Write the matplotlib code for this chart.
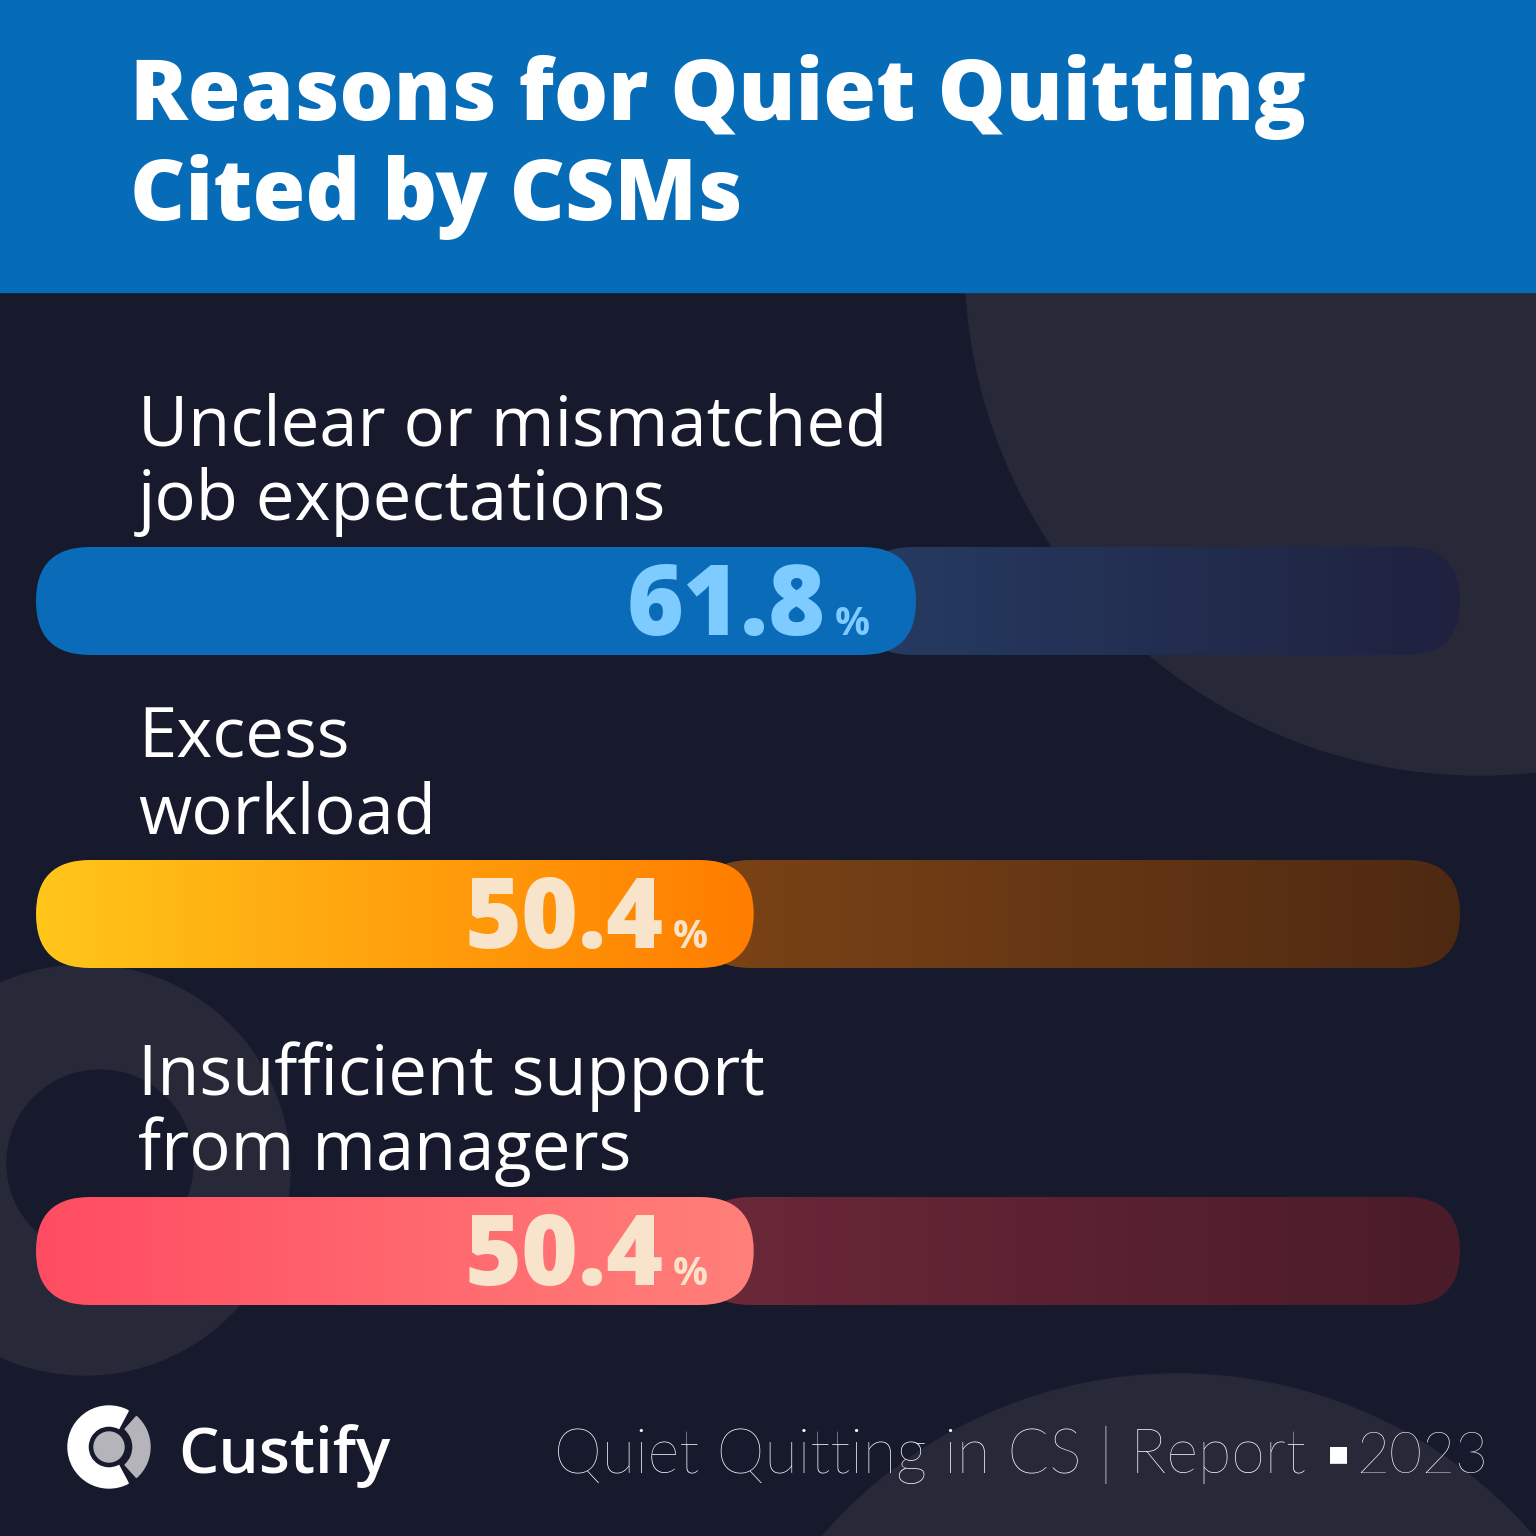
import numpy as np
import matplotlib.pyplot as plt
from matplotlib.patches import FancyBboxPatch, Circle, Rectangle, Wedge
from matplotlib.colors import LinearSegmentedColormap

# data
reasons = ["Unclear or mismatched\njob expectations", "Excess\nworkload", "Insufficient support\nfrom managers"]
shares = [61.8, 50.4, 50.4]

# styles
fill_colors = [("#0A6BB9", "#0A6BB9"), ("#FFC61A", "#FF7D00"), ("#FF4C62", "#FF807A")]
track_colors = [("#263C63", "#1F213F"), ("#7C4416", "#4E2912"), ("#6C2839", "#4A1B28")]
value_colors = ["#7DCBFF", "#F8E3CB", "#F8E3CB"]
row_centers = [601, 914, 1251]   # px from top
BG = "#171A2D"
DECO = "#272938"
HEADER = "#076CB8"

W = 1536
fig = plt.figure(figsize=(15.36, 15.36), dpi=100)
fig.patch.set_facecolor(BG)

bg = fig.add_axes([0, 0, 1, 1])
bg.set_xlim(0, W)
bg.set_ylim(W, 0)
bg.axis("off")
bg.set_facecolor(BG)

# decorative shapes
bg.add_patch(Circle((1480, 260), 515, color=DECO, zorder=1))
bg.add_patch(Circle((85, 1170), 205, color=DECO, zorder=1))
bg.add_patch(Circle((100, 1163), 93, color=BG, zorder=1))
bg.add_patch(Circle((1178, 1845), 471, color=DECO, zorder=1))
bg.add_patch(Rectangle((0, 0), W, 292, color=HEADER, zorder=2))

# title
bg.text(130, 120, "Reasons for Quiet Quitting", color="white", fontsize=61.5,
        family="Open Sans", weight="heavy", va="baseline", zorder=3)
bg.text(130, 220, "Cited by CSMs", color="white", fontsize=61.5,
        family="Open Sans", weight="heavy", va="baseline", zorder=3)


def rounded_bar(ax, x0, x1, c_left, c_right):
    # axes is 1424 px wide for 0..100 and 108 px tall for 0..1
    aspect = (1 / 108) / (100 / 1424)
    r = 54 * 100 / 1424
    patch = FancyBboxPatch((x0, 0), x1 - x0, 1,
                           boxstyle=f"round,pad=0,rounding_size={r}",
                           mutation_aspect=aspect, facecolor="none",
                           edgecolor="none")
    ax.add_patch(patch)
    cmap = LinearSegmentedColormap.from_list("g", [c_left, c_right])
    grad = np.linspace(0, 1, 256).reshape(1, -1)
    im = ax.imshow(grad, cmap=cmap, extent=(x0, x1, 0, 1), aspect="auto",
                   interpolation="bicubic")
    im.set_clip_path(patch)
    return patch


for i, (label, val) in enumerate(zip(reasons, shares)):
    cy = row_centers[i]
    ax = fig.add_axes([36 / W, (W - cy - 54) / W, 1424 / W, 108 / W])
    ax.set_xlim(0, 100)
    ax.set_ylim(0, 1)
    ax.axis("off")
    ax.patch.set_alpha(0)

    # track then fill
    rounded_bar(ax, val - 4, 100, *track_colors[i])
    rounded_bar(ax, 0, val, *fill_colors[i])

    ax.annotate(f"{val}", xy=(val, 0.5), xytext=(-90, -34), textcoords="offset pixels",
                ha="right", va="baseline", color=value_colors[i], fontsize=70,
                family="Open Sans", weight="heavy")
    ax.annotate("%", xy=(val, 0.5), xytext=(-46, -34), textcoords="offset pixels",
                ha="right", va="baseline", color=value_colors[i], fontsize=28,
                family="Open Sans", weight="bold")

    lines = label.split("\n")
    for j, line in enumerate(lines):
        bg.text(138, cy - 156 + 75 * j, line, color="white", fontsize=49.5,
                family="Open Sans", weight="medium", va="baseline", zorder=3)

# footer logo
bg.add_patch(Wedge((109, 1447), 41, 62, 298, width=20, color="white", zorder=3))
bg.add_patch(Wedge((109, 1447), 41, -48, 48, width=17, color="#B4B4BA", zorder=3))
bg.add_patch(Circle((109, 1447), 15, color="#B4B4BA", zorder=3))
bg.text(178, 1473, "Custify", color="white", fontsize=46, family="Open Sans",
        weight="semibold", va="baseline", zorder=3)

# footer caption
bg.text(1488, 1473, "2023", color="white", fontsize=41, family="Lato",
        weight="light", ha="right", va="baseline", zorder=3)
bg.text(1338, 1454, "■", color="white", fontsize=16, family="DejaVu Sans",
        ha="center", va="center", zorder=3)
bg.text(1306, 1473, "Quiet Quitting in CS | Report", color="white",
        fontsize=44, family="Lato", weight="light",
        ha="right", va="baseline", zorder=3)

fig.savefig("out.png", dpi=100, facecolor=BG)
